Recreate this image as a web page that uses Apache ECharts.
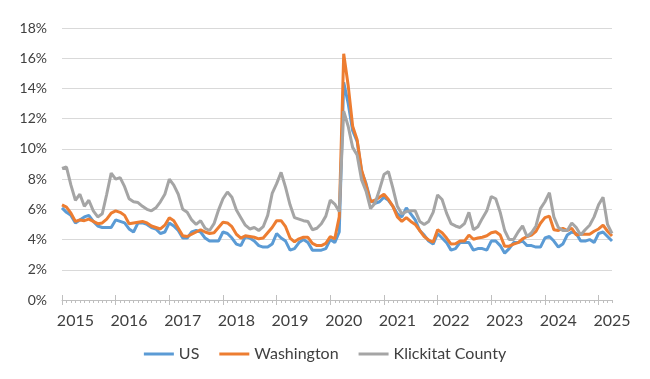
<!DOCTYPE html>
<html>
<head>
<meta charset="utf-8">
<script src="https://cdn.jsdelivr.net/npm/echarts@6/dist/echarts.min.js"></script>
<style>
  html, body { margin: 0; padding: 0; background: #ffffff; }
  #chart { width: 650px; height: 379px; }
</style>
</head>
<body>
<div id="chart"></div>
<script>
// Tick labels (years) and month names used to build the monthly categories
const yearLabels = ['2015','2016','2017','2018','2019','2020','2021','2022','2023','2024','2025'];
const monthNames = ['Jan','Feb','Mar','Apr','May','Jun','Jul','Aug','Sep','Oct','Nov','Dec'];
const lastYearMonths = 4; // data runs through Apr 2025

// Unemployment rate (%), monthly, Jan 2015 - Apr 2025
const usValues = [
  6.1, 5.8, 5.6, 5.1, 5.3, 5.5, 5.6, 5.2, 4.9, 4.8, 4.8, 4.8,
  5.3, 5.2, 5.1, 4.7, 4.5, 5.1, 5.1, 5.0, 4.8, 4.7, 4.4, 4.5,
  5.1, 4.9, 4.6, 4.1, 4.1, 4.5, 4.6, 4.5, 4.1, 3.9, 3.9, 3.9,
  4.5, 4.4, 4.1, 3.7, 3.6, 4.2, 4.1, 3.9, 3.6, 3.5, 3.5, 3.7,
  4.4, 4.1, 3.9, 3.3, 3.4, 3.8, 4.0, 3.8, 3.3, 3.3, 3.3, 3.4,
  4.0, 3.8, 4.5, 14.4, 13.0, 11.2, 10.5, 8.5, 7.7, 6.6, 6.4, 6.5,
  6.8, 6.6, 6.2, 5.7, 5.5, 6.1, 5.7, 5.3, 4.6, 4.3, 3.9, 3.7,
  4.4, 4.1, 3.8, 3.3, 3.4, 3.8, 3.8, 3.8, 3.3, 3.4, 3.4, 3.3,
  3.9, 3.9, 3.6, 3.1, 3.4, 3.8, 3.8, 3.9, 3.6, 3.6, 3.5, 3.5,
  4.1, 4.2, 3.9, 3.5, 3.7, 4.3, 4.5, 4.4, 3.9, 3.9, 4.0, 3.8,
  4.4, 4.5, 4.2, 3.9
];
const washingtonValues = [
  6.3, 6.15, 5.75, 5.2, 5.3, 5.25, 5.35, 5.2, 5.05, 5.1, 5.35, 5.75,
  5.9, 5.8, 5.6, 5.05, 5.1, 5.15, 5.2, 5.1, 4.9, 4.8, 4.7, 4.95,
  5.45, 5.25, 4.75, 4.25, 4.2, 4.35, 4.5, 4.65, 4.5, 4.4, 4.45, 4.8,
  5.15, 5.1, 4.85, 4.35, 4.1, 4.25, 4.2, 4.15, 4.05, 4.1, 4.45, 4.8,
  5.25, 5.25, 4.85, 4.1, 3.85, 4.05, 4.15, 4.15, 3.75, 3.6, 3.6, 3.75,
  4.2, 4.05, 5.5, 16.3, 14.2, 11.5, 10.6, 8.6, 7.6, 6.5, 6.6, 6.8,
  7.0, 6.65, 6.2, 5.5, 5.2, 5.45, 5.2, 5.0, 4.6, 4.2, 3.97, 3.82,
  4.65, 4.45, 4.1, 3.7, 3.72, 3.9, 3.9, 4.3, 4.02, 4.1, 4.15, 4.25,
  4.45, 4.52, 4.3, 3.55, 3.56, 3.7, 3.8, 4.05, 4.2, 4.3, 4.55, 5.08,
  5.45, 5.55, 4.65, 4.6, 4.75, 4.6, 4.75, 4.3, 4.35, 4.35, 4.35, 4.55,
  4.7, 4.95, 4.55, 4.24
];
const klickitatValues = [
  8.7, 8.8, 7.6, 6.6, 7.0, 6.2, 6.6, 5.9, 5.5, 5.7, 7.0, 8.4,
  8.0, 8.1, 7.5, 6.7, 6.5, 6.45, 6.2, 6.0, 5.9, 6.1, 6.5, 7.0,
  8.0, 7.6, 7.0, 6.0, 5.8, 5.3, 5.0, 5.25, 4.75, 4.6, 5.05, 5.95,
  6.7, 7.15, 6.8, 5.95, 5.45, 4.95, 4.7, 4.8, 4.6, 4.85, 5.6, 7.05,
  7.7, 8.45, 7.45, 6.3, 5.45, 5.35, 5.25, 5.2, 4.65, 4.75, 5.05, 5.55,
  6.6, 6.35, 5.85, 12.5, 11.5, 10.1, 9.6, 7.95, 7.2, 6.05, 6.4, 7.3,
  8.3, 8.5, 7.4, 6.2, 5.7, 5.85, 5.9, 5.9, 5.2, 5.0, 5.2, 5.8,
  6.95, 6.65, 5.75, 5.05, 4.9, 4.8, 5.05, 5.8, 4.65, 4.85, 5.4, 5.9,
  6.85, 6.7, 5.8, 4.6, 4.0, 4.0, 4.5, 4.9, 4.2, 4.45, 4.9, 6.05,
  6.5, 7.1, 5.5, 4.8, 4.6, 4.6, 5.1, 4.8, 4.3, 4.65, 4.95, 5.5,
  6.3, 6.8, 5.0, 4.4
];

// Monthly category labels built from the year/month name lists
const categories = [];
yearLabels.forEach(function (y, yi) {
  const n = (yi === yearLabels.length - 1) ? lastYearMonths : 12;
  for (let m = 0; m < n; m++) categories.push(monthNames[m] + ' ' + y);
});

const textColor = '#404040';
const axisGray = '#bfbfbf';
const font = 'Lato, "Open Sans", sans-serif';

const chart = echarts.init(document.getElementById('chart'), null, { renderer: 'canvas' });

function tickAxis(len, inside) {
  return {
    type: 'category', data: categories, boundaryGap: false, position: 'bottom',
    gridIndex: 0,
    axisLine: { show: false },
    axisLabel: { show: false },
    splitLine: { show: false },
    axisTick: { show: true, interval: 11, length: len, inside: inside,
      lineStyle: { color: axisGray, width: 1 } }
  };
}

chart.setOption({
  animation: false,
  backgroundColor: '#ffffff',
  textStyle: { fontFamily: font },
  color: ['#5B9BD5', '#ED7D31', '#A5A5A5'],
  grid: { left: 62, right: 38, top: 28, bottom: 79 },
  legend: {
    bottom: 12,
    left: 'center',
    icon: 'rect',
    itemWidth: 30,
    itemHeight: 3,
    itemGap: 20,
    textStyle: { color: textColor, fontSize: 16, fontFamily: font },
    data: ['US', 'Washington', 'Klickitat County']
  },
  xAxis: [
    {
      type: 'category', data: categories, boundaryGap: false, position: 'bottom',
      axisLine: { show: true, lineStyle: { color: axisGray, width: 1 } },
      axisTick: { show: true, interval: 0, length: 3, lineStyle: { color: axisGray, width: 1 } },
      axisLabel: {
        show: true,
        interval: function (index) { return index % 12 === 3; },
        formatter: function (v) { return v.slice(-4); },
        color: textColor, fontSize: 16, fontFamily: font, margin: 13
      },
      splitLine: { show: false }
    },
    tickAxis(5, false),
    tickAxis(5, true)
  ],
  yAxis: {
    type: 'value', min: 0, max: 18, interval: 2,
    axisLine: { show: false },
    axisTick: { show: false },
    axisLabel: { formatter: '{value}%', color: textColor, fontSize: 14, fontFamily: font, margin: 15 },
    splitLine: { show: true, lineStyle: { color: '#d9d9d9', width: 1 } }
  },
  series: [
    { name: 'US', type: 'line', data: usValues, showSymbol: false, lineStyle: { width: 3 }, xAxisIndex: 0 },
    { name: 'Washington', type: 'line', data: washingtonValues, showSymbol: false, lineStyle: { width: 3 }, xAxisIndex: 0 },
    { name: 'Klickitat County', type: 'line', data: klickitatValues, showSymbol: false, lineStyle: { width: 3 }, xAxisIndex: 0 }
  ]
});
</script>
</body>
</html>
